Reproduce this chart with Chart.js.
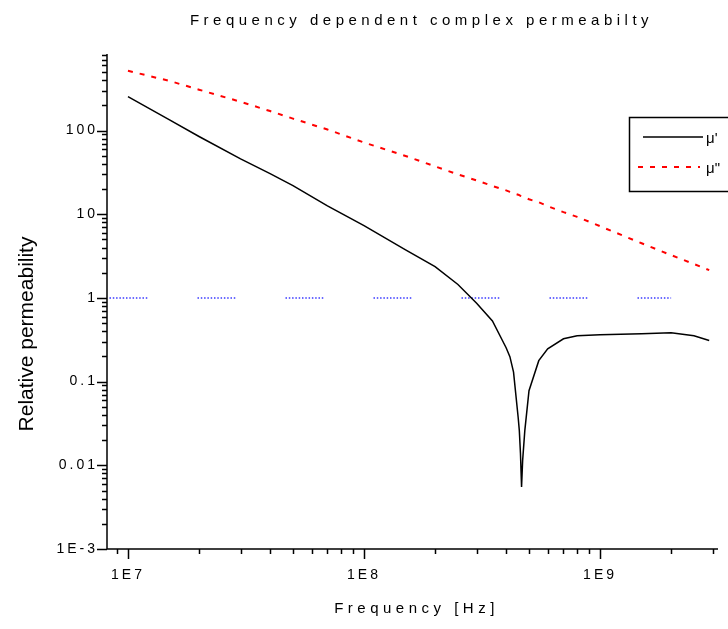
<!DOCTYPE html>
<html>
<head>
<meta charset="utf-8">
<title>Frequency dependent complex permeabilty</title>
<script src="https://cdn.jsdelivr.net/npm/chart.js@4.4.0/dist/chart.umd.min.js"></script>
<style>
  html, body { margin: 0; padding: 0; background: #fff; }
  #wrap { width: 728px; height: 629px; }
</style>
</head>
<body>
<div id="wrap"><canvas id="myChart" width="728" height="629"></canvas></div>
<script>
// values (frequency in Hz)
var freq = [1e7, 1.5e7, 2e7, 3e7, 4e7, 5e7, 7e7, 1e8, 1.5e8, 2e8, 2.5e8, 3e8, 3.5e8, 4e8, 4.15e8,
            4.3e8, 4.5e8, 4.55e8, 4.6e8, 4.65e8, 4.7e8, 4.8e8, 5e8, 5.5e8, 6e8, 7e8, 8e8,
            1e9, 1.5e9, 2e9, 2.5e9, 2.9e9];
var muReal = [254, 134, 85, 46, 30.6, 22, 12.6, 7.3, 3.76, 2.37, 1.45, 0.865, 0.53, 0.254, 0.199,
              0.13, 0.037, 0.026, 0.014, 0.0055, 0.0115, 0.026, 0.078, 0.178, 0.247, 0.325, 0.353,
              0.363, 0.373, 0.383, 0.353, 0.31];
var muImag = [518, 392, 308, 221, 171, 139, 103, 72, 49.7, 37.3, 29.9, 25.4, 21.8, 19.3, 18.5,
              17.8, 17.1, 16.9, 16.6, 16.4, 16.3, 15.9, 15.1, 13.9, 12.5, 10.6, 9.3,
              7.2, 4.5, 3.25, 2.54, 2.15];
// mu = 1 reference line
var unityFreq = [8.35e6, 2e9];
var unityVal = [1, 1];

var xDecades = [7, 8, 9];
var xTickLabels = ['1E7', '1E8', '1E9'];
var yDecades = [-3, -2, -1, 0, 1, 2];
var yTickLabels = ['1E-3', '0.01', '0.1', '1', '10', '100'];

var FONT = "Arial, 'Liberation Sans', sans-serif";

function pts(xs, ys) {
    return xs.map(function (x, i) { return { x: x, y: ys[i] }; });
}

function decadeLabel(decades, labels) {
    return function (value) {
        var e = Math.log10(value);
        var r = Math.round(e);
        if (Math.abs(e - r) > 1e-6) return '';
        var i = decades.indexOf(r);
        return i < 0 ? '' : labels[i];
    };
}

function logTicks(min, max) {
    var out = [];
    for (var e = Math.floor(Math.log10(min)); e <= Math.ceil(Math.log10(max)); e++) {
        for (var m = 1; m <= 9; m++) {
            var v = m * Math.pow(10, e);
            if (v >= min * (1 - 1e-9) && v <= max * (1 + 1e-9)) out.push({ v: v, major: m === 1 });
        }
    }
    return out;
}

// dotted pattern: a run of dots, then a long gap
var unityDash = [];
for (var i = 0; i < 11; i++) unityDash.push(1.5, 1.8);
unityDash.push(1.5, 50.2);

var frame = {
    id: 'frame',
    beforeDraw: function (chart) {
        chart.ctx.letterSpacing = '3px';
    },
    afterDraw: function (chart) {
        var ctx = chart.ctx, a = chart.chartArea;
        var xs = chart.scales.x, ys = chart.scales.y;
        ctx.save();
        ctx.strokeStyle = '#000';
        ctx.lineWidth = 1.5;
        ctx.setLineDash([]);
        ctx.beginPath();
        ctx.moveTo(a.left, a.top - 1);
        ctx.lineTo(a.left, a.bottom);
        ctx.lineTo(a.right, a.bottom);
        logTicks(xs.min, xs.max).forEach(function (t) {
            var p = Math.round(xs.getPixelForValue(t.v)) + 0.5;
            ctx.moveTo(p, a.bottom);
            ctx.lineTo(p, a.bottom + (t.major ? 10 : 5));
        });
        logTicks(ys.min, ys.max).forEach(function (t) {
            var p = Math.round(ys.getPixelForValue(t.v)) + 0.5;
            ctx.moveTo(a.left, p);
            ctx.lineTo(a.left - (t.major ? 10 : 5), p);
        });
        ctx.stroke();

        // titles
        ctx.fillStyle = '#000';
        ctx.textAlign = 'center';
        ctx.textBaseline = 'middle';
        ctx.letterSpacing = '4.5px';
        ctx.font = '15px ' + FONT;
        ctx.fillText('Frequency dependent complex permeabilty', (a.left + a.right) / 2 + 9, 21);
        ctx.fillText('Frequency [Hz]', (a.left + a.right) / 2 + 4, 609);

        ctx.letterSpacing = '0px';
        ctx.save();
        ctx.translate(27, (a.top + a.bottom) / 2 + 32);
        ctx.rotate(-Math.PI / 2);
        ctx.font = '21px ' + FONT;
        ctx.fillText('Relative permeability', 0, 0);
        ctx.restore();

        // legend box
        var bx = 629, by = 117, bh = 74;
        ctx.lineWidth = 1.5;
        ctx.strokeRect(bx + 0.5, by + 0.5, 200, bh);
        ctx.textAlign = 'left';
        ctx.font = '15px ' + FONT;
        var rows = [{ ds: chart.data.datasets[0], y: by + 20, x0: bx + 14, x1: bx + 74 },
                    { ds: chart.data.datasets[1], y: by + 50, x0: bx + 9, x1: bx + 71 }];
        rows.forEach(function (r) {
            ctx.strokeStyle = r.ds.borderColor;
            ctx.lineWidth = r.ds.borderWidth;
            ctx.setLineDash(r.ds.borderDash || []);
            ctx.beginPath();
            ctx.moveTo(r.x0, r.y);
            ctx.lineTo(r.x1, r.y);
            ctx.stroke();
            ctx.fillText(r.ds.label, bx + 77, r.y + 2);
        });
        ctx.restore();
    }
};

var ctx = document.getElementById('myChart');
var chart = new Chart(ctx, {
    type: 'line',
    data: {
        datasets: [{
            label: "\u03bc'",
            data: pts(freq, muReal),
            borderColor: '#000000',
            borderWidth: 1.5,
            pointRadius: 0,
            tension: 0
        }, {
            label: '\u03bc"',
            data: pts(freq, muImag),
            borderColor: '#ff0000',
            borderWidth: 2,
            borderDash: [5, 7],
            pointRadius: 0,
            tension: 0
        }, {
            label: 'unity',
            data: pts(unityFreq, unityVal),
            borderColor: '#3a3aff',
            borderWidth: 1.5,
            borderDash: unityDash,
            pointRadius: 0,
            tension: 0
        }]
    },
    options: {
        responsive: false,
        animation: false,
        layout: { padding: { top: 55, right: 10, left: 0, bottom: 0 } },
        plugins: {
            legend: { display: false },
            tooltip: { enabled: false }
        },
        scales: {
            x: {
                type: 'logarithmic',
                position: 'bottom',
                min: 8.15e6,
                max: 3.16e9,
                grid: { display: false, drawTicks: false },
                border: { display: false },
                ticks: {
                    autoSkip: false,
                    maxRotation: 0,
                    padding: 18,
                    color: '#000',
                    font: { family: FONT, size: 14 },
                    callback: decadeLabel(xDecades, xTickLabels)
                },
                afterFit: function (s) {
                    s.height = 80;
                    s.paddingLeft = 0;
                    s.paddingRight = 0;
                }
            },
            y: {
                type: 'logarithmic',
                min: 1e-3,
                max: 800,
                grid: { display: false, drawTicks: false },
                border: { display: false },
                ticks: {
                    autoSkip: false,
                    padding: 9,
                    color: '#000',
                    font: { family: FONT, size: 14 },
                    callback: decadeLabel(yDecades, yTickLabels)
                },
                afterFit: function (s) {
                    s.width = 107;
                    s.paddingTop = 0;
                    s.paddingBottom = 0;
                }
            }
        }
    },
    plugins: [frame]
});
</script>
</body>
</html>
